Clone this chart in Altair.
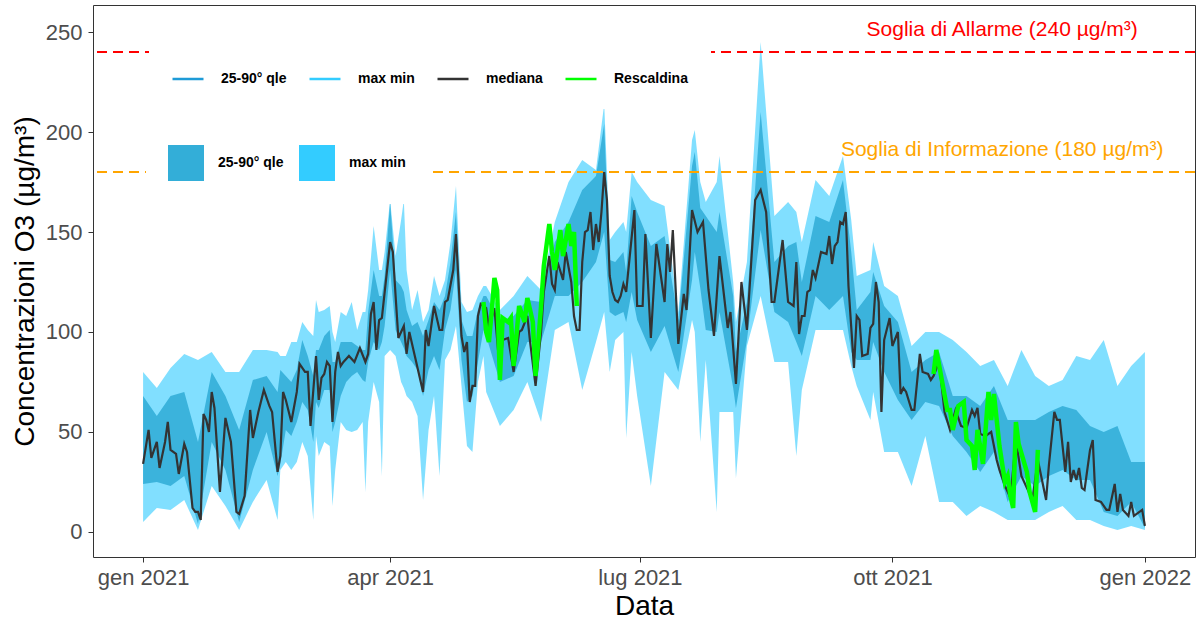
import altair as alt
import pandas as pd

# ---------------------------------------------------------------------------
# Daily O3 concentrations 2021 (µg/m³); days counted from 1 Jan 2021
# ---------------------------------------------------------------------------
DAY0 = pd.Timestamp("2021-01-01")

# network median ("mediana")
med_day = [0, 2, 3, 5, 6, 8, 9, 10, 12, 13, 15, 16, 18, 19, 20, 21, 22, 23, 24, 25,
           26, 28, 30, 32, 34, 35, 37, 39, 40, 42, 44, 46, 47, 49, 50, 51, 52, 54, 56, 57, 59,
           60, 61, 63, 64, 65, 66, 67, 68, 69, 70, 71, 72, 73, 75, 77, 79, 81, 82, 83, 84, 85,
           86, 87, 90, 91, 92, 93, 95, 96, 97, 99, 102, 103, 104, 106, 108, 109, 110, 111, 113, 114,
           115, 116, 117, 118, 119, 120, 121, 122, 123, 125, 126, 128, 130, 131, 133, 135, 137, 138, 140, 141,
           143, 145, 146, 148, 149, 150, 151, 153, 154, 156, 157, 158, 159, 160, 161, 162, 163, 164, 165, 166,
           167, 168, 169, 170, 171, 172, 173, 174, 175, 176, 179, 180, 182, 183, 185, 187, 190, 191, 192, 193,
           195, 197, 198, 200, 202, 204, 206, 208, 210, 211, 213, 214, 216, 218, 220, 223, 225, 227, 229, 230,
           233, 235, 237, 238, 239, 240, 241, 242, 243, 244, 245, 247, 249, 250, 251, 252, 253, 254, 255, 256,
           257, 259, 260, 261, 262, 264, 265, 266, 267, 268, 269, 270, 272, 273, 275, 276, 277, 278, 280, 281,
           283, 284, 286, 287, 288, 290, 292, 294, 296, 298, 300, 302, 303, 304, 305, 307, 309, 311, 312, 314,
           316, 318, 320, 324, 326, 329, 330, 332, 333, 334, 336, 337, 338, 339, 340, 341, 342, 343, 345, 346,
           347, 349, 351, 352, 354, 355, 356, 357, 359, 360, 361, 364, 365]
med_val = [34, 51, 37, 45, 32, 45, 55, 41, 39, 29, 44, 40, 12, 10, 10, 6, 59, 56, 50, 70,
           62, 20, 57, 45, 10, 9, 18, 61, 47, 60, 71, 63, 60, 30, 38, 70, 66, 55, 70, 84, 80,
           80, 53, 88, 66, 77, 79, 85, 83, 55, 80, 90, 83, 85, 88, 85, 92, 85, 89, 109, 115, 91,
           106, 107, 145, 140, 118, 97, 103, 89, 100, 88, 70, 101, 93, 113, 101, 101, 115, 116, 131, 149,
           123, 98, 90, 95, 65, 73, 73, 108, 114, 112, 102, 112, 80, 96, 97, 80, 100, 101, 108, 95,
           73, 100, 120, 138, 124, 121, 135, 126, 140, 125, 108, 101, 101, 135, 150, 151, 160, 141, 154, 145,
           160, 180, 166, 128, 120, 116, 115, 118, 124, 120, 161, 113, 113, 149, 97, 144, 115, 144, 130, 151,
           94, 119, 111, 161, 150, 155, 121, 98, 138, 126, 102, 110, 74, 125, 101, 166, 171, 160, 115, 115,
           146, 115, 113, 135, 99, 108, 108, 120, 121, 131, 127, 140, 139, 148, 134, 143, 145, 155, 154, 160,
           123, 82, 108, 106, 88, 89, 102, 104, 125, 115, 60, 96, 107, 93, 100, 69, 72, 70, 61, 61,
           89, 80, 79, 76, 78, 85, 60, 51, 61, 53, 52, 61, 58, 62, 49, 48, 50, 36, 31, 23,
           17, 46, 28, 16, 36, 16, 33, 60, 56, 56, 30, 45, 25, 31, 26, 32, 22, 21, 41, 46,
           16, 15, 11, 11, 24, 10, 19, 11, 8, 15, 8, 11, 3]

# Rescaldina station, two measured periods
resc_day_spring = [124, 125, 126, 127, 128, 129, 130, 131, 133, 134, 135, 137, 139, 140, 142, 143,
                   145, 146, 148, 149, 150, 152, 153, 155, 156, 157, 158]
resc_val_spring = [115, 100, 95, 110, 127, 121, 76, 107, 105, 107, 83, 113, 105, 117, 105, 78,
                   113, 133, 154, 140, 131, 151, 138, 154, 143, 150, 113]
resc_day_autumn = [288, 289, 291, 293, 294, 295, 297, 299, 300, 302, 303, 304, 306, 308, 309, 310,
                   312, 314, 315, 316, 317, 318, 319, 322, 323, 325, 326]
resc_val_autumn = [79, 91, 76, 61, 61, 51, 63, 65, 46, 43, 31, 51, 34, 70, 56, 69,
                   43, 25, 28, 18, 12, 55, 44, 30, 20, 10, 41]

# network spread: minimum, 25th percentile, 90th percentile, maximum
band_day = [0, 5, 10, 15, 20, 25, 30, 35, 40, 45, 49, 50, 52, 54, 56, 58, 60, 62, 63, 64,
            66, 68, 69, 70, 72, 74, 76, 78, 80, 81, 82, 84, 86, 87, 88, 90, 92, 94, 95, 96,
            98, 100, 102, 104, 106, 108, 110, 112, 114, 116, 118, 120, 122, 124, 125, 130, 135, 140, 145, 150,
            155, 160, 165, 168, 170, 172, 175, 176, 178, 180, 185, 190, 195, 200, 201, 203, 205, 209, 210, 215,
            216, 220, 225, 230, 235, 238, 240, 245, 250, 255, 258, 260, 265, 266, 270, 275, 280, 285, 290, 295,
            300, 305, 310, 315, 320, 325, 330, 335, 340, 345, 350, 355, 360, 365]
band_min = [5, 12, 11, 16, 1, 23, 13, 1, 15, 26, 6, 31, 35, 31, 35, 45, 38, 6, 48, 38,
            45, 43, 13, 31, 55, 51, 50, 51, 55, 20, 55, 75, 65, 28, 88, 91, 88, 75, 72, 68,
            65, 58, 16, 51, 68, 28, 86, 91, 103, 73, 43, 40, 75, 88, 70, 53, 61, 75, 55, 101,
            105, 71, 95, 110, 80, 96, 100, 47, 90, 68, 23, 80, 71, 106, 100, 45, 86, 10, 60, 60,
            27, 93, 118, 85, 85, 38, 71, 101, 101, 101, 83, 73, 56, 70, 40, 40, 23, 48, 15, 15,
            8, 13, 10, 6, 6, 6, 10, 13, 6, 6, 3, 1, 3, 1]
band_q25 = [24, 25, 23, 28, 4, 45, 31, 5, 31, 50, 28, 34, 51, 48, 55, 65, 61, 45, 65, 62,
            71, 71, 50, 55, 68, 75, 78, 80, 76, 75, 85, 95, 91, 95, 103, 131, 101, 95, 92, 88,
            85, 81, 68, 81, 88, 81, 101, 111, 131, 86, 65, 68, 85, 101, 98, 75, 78, 95, 95, 118,
            118, 125, 135, 150, 110, 108, 110, 105, 120, 106, 90, 103, 80, 126, 140, 122, 101, 100, 110, 72,
            62, 96, 151, 110, 105, 95, 88, 118, 111, 118, 90, 86, 86, 95, 80, 66, 56, 65, 63, 48,
            40, 30, 40, 15, 28, 23, 28, 31, 26, 26, 10, 8, 15, 2]
band_q90 = [68, 58, 68, 70, 45, 80, 68, 51, 76, 78, 70, 81, 78, 75, 81, 96, 88, 78, 91, 91,
            98, 101, 85, 85, 95, 95, 95, 93, 91, 91, 110, 131, 118, 118, 128, 165, 126, 123, 120, 111,
            103, 105, 98, 106, 115, 111, 118, 135, 160, 106, 98, 98, 111, 118, 118, 105, 108, 116, 115, 145,
            155, 171, 178, 204, 136, 135, 140, 130, 168, 160, 143, 148, 106, 183, 190, 162, 158, 150, 160, 118,
            90, 115, 210, 135, 143, 145, 125, 158, 155, 176, 140, 111, 120, 130, 113, 105, 80, 86, 90, 68,
            68, 63, 73, 56, 56, 56, 60, 63, 61, 53, 50, 53, 35, 35]
band_max = [80, 72, 82, 89, 86, 90, 80, 80, 91, 91, 90, 88, 88, 95, 95, 105, 101, 98, 116, 110,
            111, 113, 100, 95, 110, 108, 115, 101, 110, 110, 121, 153, 131, 131, 140, 166, 138, 156, 166, 131,
            111, 121, 105, 111, 128, 118, 126, 145, 173, 115, 110, 111, 118, 123, 123, 111, 118, 128, 121, 155,
            175, 186, 181, 214, 146, 150, 155, 150, 180, 175, 166, 163, 110, 196, 201, 175, 165, 175, 188, 125,
            105, 135, 245, 158, 165, 160, 145, 176, 168, 188, 156, 128, 131, 145, 123, 118, 93, 100, 100, 96,
            90, 83, 86, 73, 91, 78, 73, 76, 88, 86, 96, 73, 83, 90]

# regulatory thresholds and their captions
thr_value = [240, 180]
thr_color = ["#FF0000", "#FFA500"]
thr_label = ["Soglia di Allarme (240 µg/m³)", "Soglia di Informazione (180 µg/m³)"]
thr_label_day = [313, 313]
thr_label_y = [251, 191]

# legend entries
line_keys = ["25-90° qle", "max min", "mediana", "Rescaldina"]
line_colors = ["#1E9BD7", "#33CCFF", "#333333", "#00FF00"]
fill_keys = ["25-90° qle", "max min"]
fill_colors = ["#33AED8", "#33CCFF"]


def as_dates(days):
    return [(DAY0 + pd.Timedelta(days=int(d))).strftime("%Y-%m-%d") for d in days]


def ms(ts):
    return int(pd.Timestamp(ts).tz_localize("UTC").value // 10**6)


# ---------------------------------------------------------------------------
# tables
# ---------------------------------------------------------------------------
band_dates = as_dates(band_day)
bands = pd.concat([
    pd.DataFrame({"date": band_dates, "lo": band_min, "hi": band_max, "band": "max min"}),
    pd.DataFrame({"date": band_dates, "lo": band_q25, "hi": band_q90, "band": "25-90° qle"}),
])
median = pd.DataFrame({"date": as_dates(med_day), "value": med_val, "serie": "mediana"})
resc = pd.concat([
    pd.DataFrame({"date": as_dates(resc_day_spring), "value": resc_val_spring,
                  "serie": "Rescaldina", "seg": "spring"}),
    pd.DataFrame({"date": as_dates(resc_day_autumn), "value": resc_val_autumn,
                  "serie": "Rescaldina", "seg": "autumn"}),
])
thr = pd.DataFrame({"value": thr_value, "color": thr_color})
captions = pd.DataFrame({"date": as_dates(thr_label_day), "y": thr_label_y,
                         "label": thr_label, "color": thr_color})

# ---------------------------------------------------------------------------
# scales / axes
# ---------------------------------------------------------------------------
FONT = "Liberation Sans"
x_scale = alt.Scale(type="utc",
                    domain=[ms(DAY0 - pd.Timedelta(hours=438)), ms(DAY0 + pd.Timedelta(hours=9198))])
x_axis = alt.Axis(
    values=[ms("2021-01-01"), ms("2021-04-01"), ms("2021-07-01"), ms("2021-10-01"), ms("2022-01-01")],
    labelExpr="['gen','feb','mar','apr','mag','giu','lug','ago','set','ott','nov','dic']"
              "[utcmonth(datum.value)] + ' ' + utcyear(datum.value)",
    labelPadding=5, titlePadding=4,
)
y_scale = alt.Scale(domain=[-12.55, 263.55], nice=False, zero=False)
y_axis = alt.Axis(values=[0, 50, 100, 150, 200, 250], labelPadding=6, titlePadding=6)
Y_TITLE = "Concentrazioni O3 (µg/m³)"


def xenc():
    return alt.X("date:T", scale=x_scale, axis=x_axis, title="Data")


def yenc(field):
    return alt.Y(field, type="quantitative", scale=y_scale, axis=y_axis, title=Y_TITLE)


fill_scale = alt.Scale(domain=fill_keys, range=fill_colors)
fill_legend = alt.Legend(
    title=None, orient="none", legendX=53, legendY=118, direction="horizontal",
    columns=2, gridAlign="each", symbolType="square", symbolSize=1296,
    symbolStrokeWidth=0, symbolOpacity=1, labelOffset=14, columnPadding=15,
    padding=22, fillColor="white", strokeColor="white", zindex=1,
    labelFont=FONT, labelFontSize=14, labelFontWeight="bold", labelColor="black",
)
stroke_scale = alt.Scale(domain=line_keys, range=line_colors)
stroke_legend = alt.Legend(
    title=None, orient="none", legendX=56, legendY=35, direction="horizontal",
    columns=4, gridAlign="each", symbolType="stroke", symbolSize=961,
    symbolStrokeWidth=2.5, labelOffset=16, columnPadding=17,
    padding=22, fillColor="white", strokeColor="white", zindex=1,
    labelFont=FONT, labelFontSize=14, labelFontWeight="bold", labelColor="black",
)

# ---------------------------------------------------------------------------
# layers
# ---------------------------------------------------------------------------
area_minmax = alt.Chart(bands).transform_filter(alt.datum.band == "max min").mark_area(
    opacity=0.62, interpolate="linear"
).encode(
    x=xenc(), y=yenc("lo"), y2=alt.Y2("hi"),
    fill=alt.Fill("band:N", scale=fill_scale, legend=fill_legend),
)
area_qle = alt.Chart(bands).transform_filter(alt.datum.band == "25-90° qle").mark_area(
    opacity=0.9, interpolate="linear"
).encode(
    x=xenc(), y=yenc("lo"), y2=alt.Y2("hi"),
    fill=alt.Fill("band:N", scale=fill_scale, legend=fill_legend),
)
line_med = alt.Chart(median).mark_line(strokeWidth=2.2).encode(
    x=xenc(), y=yenc("value"),
    stroke=alt.Stroke("serie:N", scale=stroke_scale, legend=stroke_legend),
)
line_resc = alt.Chart(resc).mark_line(strokeWidth=4.5).encode(
    x=xenc(), y=yenc("value"), detail="seg:N",
    stroke=alt.Stroke("serie:N", scale=stroke_scale, legend=stroke_legend),
)
rules = alt.Chart(thr).mark_rule(strokeDash=[10, 6], strokeWidth=2).encode(
    y=yenc("value"), color=alt.Color("color:N", scale=None),
)
texts = alt.Chart(captions).mark_text(font=FONT, fontSize=21, align="center", baseline="middle").encode(
    x=xenc(), y=yenc("y"), text="label:N", color=alt.Color("color:N", scale=None),
)

chart = alt.layer(area_minmax, area_qle, line_med, line_resc, rules, texts).properties(
    width=1102, height=552,
    padding={"left": 93, "top": 5, "right": 7, "bottom": 66},
    autosize=alt.AutoSizeParams(type="none"),
).configure_view(
    stroke="#333333", strokeWidth=1,
).configure_axis(
    grid=False, domain=False, tickColor="#333333", tickSize=5, tickWidth=1,
    labelColor="#4D4D4D", labelFontSize=22, labelFont=FONT,
    titleFont=FONT, titleFontSize=28, titleFontWeight="normal", titleColor="black",
)

chart.save("out.html", embed_options={"renderer": "svg", "actions": False})
